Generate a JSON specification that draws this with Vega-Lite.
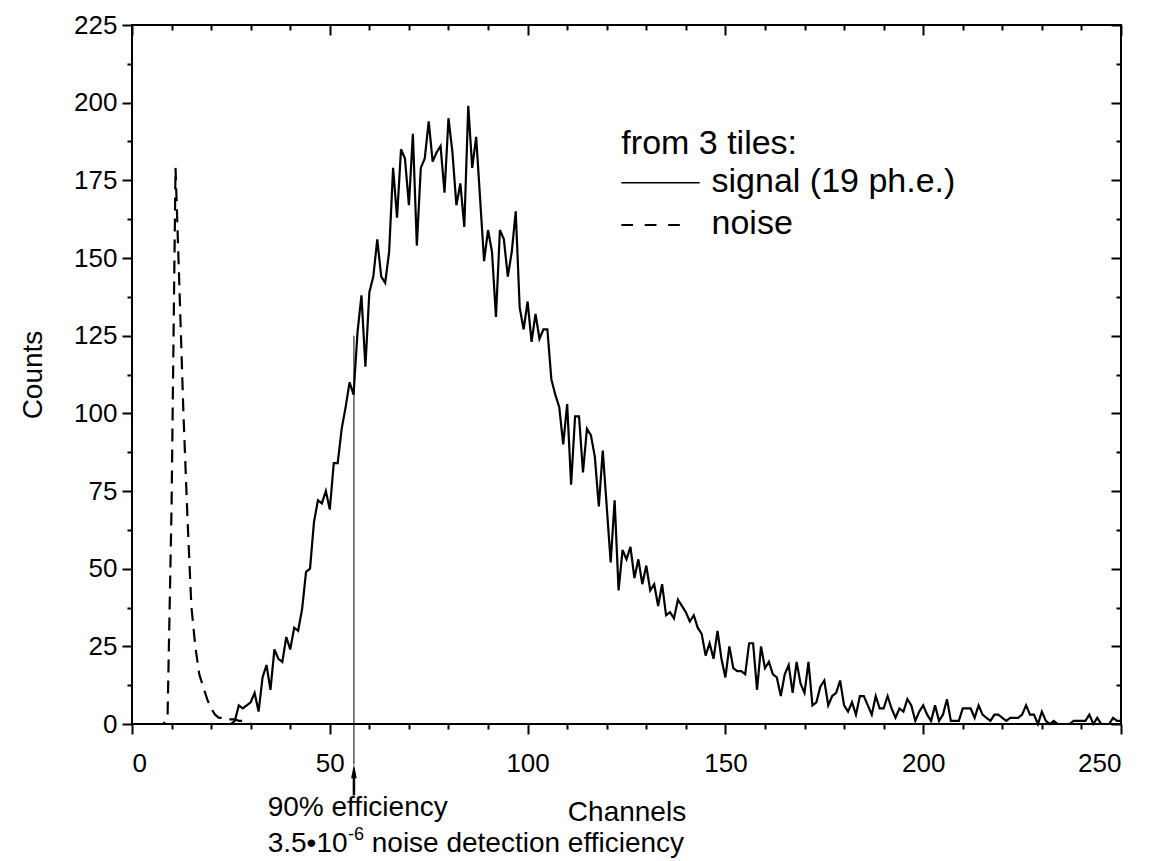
{
  "$schema": "https://vega.github.io/schema/vega-lite/v6.json",
  "width": 989,
  "height": 699,
  "autosize": "none",
  "padding": {"left": 132, "top": 25, "right": 39, "bottom": 137},
  "background": "white",
  "config": {
    "view": {"stroke": "black", "strokeWidth": 2},
    "font": "Liberation Sans",
    "axis": {
      "domain": false, "grid": false, "tickColor": "black", "tickWidth": 2,
      "labelColor": "black", "labelFont": "Liberation Sans", "labelFontSize": 26,
      "titleColor": "black", "titleFont": "Liberation Sans", "titleFontSize": 28, "titleFontWeight": "normal"
    },
    "text": {"font": "Liberation Sans", "color": "black"}
  },
  "datasets": {
    "signal": [
      {"channel":0,"counts":0},{"channel":25,"counts":0},{"channel":26,"counts":1},{"channel":27,"counts":6},{"channel":28,"counts":5},{"channel":29,"counts":6},{"channel":30,"counts":7},{"channel":31,"counts":10},{"channel":32,"counts":4},{"channel":33,"counts":15},{"channel":34,"counts":19},{"channel":35,"counts":11},{"channel":36,"counts":24},{"channel":37,"counts":21},{"channel":38,"counts":20},{"channel":39,"counts":28},{"channel":40,"counts":24},{"channel":41,"counts":31},{"channel":42,"counts":30},{"channel":43,"counts":37},{"channel":44,"counts":49},{"channel":45,"counts":50},{"channel":46,"counts":65},{"channel":47,"counts":72},{"channel":48,"counts":71},{"channel":49,"counts":75},{"channel":50,"counts":69},{"channel":51,"counts":84},{"channel":52,"counts":84},{"channel":53,"counts":95},{"channel":54,"counts":102},{"channel":55,"counts":110},{"channel":56,"counts":106},{"channel":57,"counts":126},{"channel":58,"counts":138},{"channel":59,"counts":115},{"channel":60,"counts":139},{"channel":61,"counts":144},{"channel":62,"counts":156},{"channel":63,"counts":144},{"channel":64,"counts":142},{"channel":65,"counts":152},{"channel":66,"counts":179},{"channel":67,"counts":163},{"channel":68,"counts":185},{"channel":69,"counts":182},{"channel":70,"counts":167},{"channel":71,"counts":190},{"channel":72,"counts":154},{"channel":73,"counts":179},{"channel":74,"counts":182},{"channel":75,"counts":194},{"channel":76,"counts":181},{"channel":77,"counts":184},{"channel":78,"counts":186},{"channel":79,"counts":171},{"channel":80,"counts":195},{"channel":81,"counts":184},{"channel":82,"counts":167},{"channel":83,"counts":174},{"channel":84,"counts":160},{"channel":85,"counts":199},{"channel":86,"counts":179},{"channel":87,"counts":189},{"channel":88,"counts":169},{"channel":89,"counts":149},{"channel":90,"counts":159},{"channel":91,"counts":152},{"channel":92,"counts":131},{"channel":93,"counts":159},{"channel":94,"counts":156},{"channel":95,"counts":144},{"channel":96,"counts":152},{"channel":97,"counts":165},{"channel":98,"counts":134},{"channel":99,"counts":127},{"channel":100,"counts":136},{"channel":101,"counts":123},{"channel":102,"counts":132},{"channel":103,"counts":124},{"channel":104,"counts":127},{"channel":105,"counts":127},{"channel":106,"counts":111},{"channel":107,"counts":106},{"channel":108,"counts":102},{"channel":109,"counts":90},{"channel":110,"counts":103},{"channel":111,"counts":77},{"channel":112,"counts":99},{"channel":113,"counts":99},{"channel":114,"counts":81},{"channel":115,"counts":95},{"channel":116,"counts":93},{"channel":117,"counts":86},{"channel":118,"counts":70},{"channel":119,"counts":88},{"channel":120,"counts":70},{"channel":121,"counts":52},{"channel":122,"counts":72},{"channel":123,"counts":43},{"channel":124,"counts":56},{"channel":125,"counts":53},{"channel":126,"counts":57},{"channel":127,"counts":47},{"channel":128,"counts":53},{"channel":129,"counts":45},{"channel":130,"counts":51},{"channel":131,"counts":43},{"channel":132,"counts":45},{"channel":133,"counts":38},{"channel":134,"counts":45},{"channel":135,"counts":35},{"channel":136,"counts":36},{"channel":137,"counts":34},{"channel":138,"counts":40},{"channel":139,"counts":38},{"channel":140,"counts":36},{"channel":141,"counts":33},{"channel":142,"counts":35},{"channel":143,"counts":31},{"channel":144,"counts":29},{"channel":145,"counts":22},{"channel":146,"counts":26},{"channel":147,"counts":21},{"channel":148,"counts":30},{"channel":149,"counts":21},{"channel":150,"counts":15},{"channel":151,"counts":25},{"channel":152,"counts":18},{"channel":153,"counts":17},{"channel":154,"counts":17},{"channel":155,"counts":16},{"channel":156,"counts":26},{"channel":157,"counts":26},{"channel":158,"counts":11},{"channel":159,"counts":25},{"channel":160,"counts":18},{"channel":161,"counts":20},{"channel":162,"counts":16},{"channel":163,"counts":15},{"channel":164,"counts":9},{"channel":165,"counts":16},{"channel":166,"counts":19},{"channel":167,"counts":10},{"channel":168,"counts":20},{"channel":169,"counts":13},{"channel":170,"counts":10},{"channel":171,"counts":20},{"channel":172,"counts":6},{"channel":173,"counts":7},{"channel":174,"counts":12},{"channel":175,"counts":14},{"channel":176,"counts":6},{"channel":177,"counts":9},{"channel":178,"counts":10},{"channel":179,"counts":14},{"channel":180,"counts":6},{"channel":181,"counts":4},{"channel":182,"counts":7},{"channel":183,"counts":3},{"channel":184,"counts":9},{"channel":185,"counts":9},{"channel":186,"counts":6},{"channel":187,"counts":3},{"channel":188,"counts":9},{"channel":189,"counts":5},{"channel":190,"counts":5},{"channel":191,"counts":9},{"channel":192,"counts":5},{"channel":193,"counts":2},{"channel":194,"counts":5},{"channel":195,"counts":4},{"channel":196,"counts":8},{"channel":197,"counts":6},{"channel":198,"counts":1},{"channel":199,"counts":4},{"channel":200,"counts":6},{"channel":201,"counts":3},{"channel":202,"counts":1},{"channel":203,"counts":6},{"channel":204,"counts":1},{"channel":205,"counts":3},{"channel":206,"counts":8},{"channel":207,"counts":1},{"channel":208,"counts":1},{"channel":209,"counts":1},{"channel":210,"counts":5},{"channel":211,"counts":5},{"channel":212,"counts":5},{"channel":213,"counts":2},{"channel":214,"counts":6},{"channel":215,"counts":3},{"channel":216,"counts":2},{"channel":217,"counts":1},{"channel":218,"counts":3},{"channel":219,"counts":3},{"channel":220,"counts":2},{"channel":221,"counts":1},{"channel":222,"counts":2},{"channel":223,"counts":2},{"channel":224,"counts":2},{"channel":225,"counts":3},{"channel":226,"counts":6},{"channel":227,"counts":3},{"channel":228,"counts":3},{"channel":229,"counts":0},{"channel":230,"counts":4},{"channel":231,"counts":1},{"channel":232,"counts":0},{"channel":233,"counts":1},{"channel":234,"counts":0},{"channel":237,"counts":0},{"channel":238,"counts":1},{"channel":239,"counts":1},{"channel":240,"counts":1},{"channel":241,"counts":1},{"channel":242,"counts":3},{"channel":243,"counts":0},{"channel":244,"counts":2},{"channel":245,"counts":0},{"channel":247,"counts":0},{"channel":248,"counts":2},{"channel":249,"counts":1},{"channel":250,"counts":1}
    ],
    "noise": [
      {"channel":0,"counts":0},{"channel":8,"counts":0},{"channel":9,"counts":3},{"channel":10,"counts":70},{"channel":11,"counts":179},{"channel":12,"counts":140},{"channel":13,"counts":100},{"channel":14,"counts":67},{"channel":15,"counts":38},{"channel":16,"counts":25},{"channel":17,"counts":16},{"channel":18,"counts":12},{"channel":19,"counts":8},{"channel":20,"counts":5},{"channel":21,"counts":3},{"channel":22,"counts":2},{"channel":23,"counts":2},{"channel":24,"counts":1.5},{"channel":25,"counts":1.5},{"channel":26,"counts":1.5},{"channel":27,"counts":1},{"channel":28,"counts":1},{"channel":29,"counts":0.5},{"channel":30,"counts":0},{"channel":250,"counts":0}
    ],
    "one": [{}]
  },
  "resolve": {"axis": {"x": "independent", "y": "independent"}},
  "layer": [
    {
      "data": {"name": "signal"},
      "mark": {"type": "line", "stroke": "black", "strokeWidth": 2.2},
      "encoding": {
        "x": {"field": "channel", "type": "quantitative", "scale": {"domain": [0, 250], "nice": false, "zero": false},
              "axis": {"orient": "bottom", "values": [0, 50, 100, 150, 200, 250], "tickSize": 10, "labelPadding": 16, "title": "Channels", "titlePadding": 22}},
        "y": {"field": "counts", "type": "quantitative", "scale": {"domain": [0, 225], "nice": false, "zero": false},
              "axis": {"orient": "left", "values": [0, 25, 50, 75, 100, 125, 150, 175, 200, 225], "tickSize": 10, "labelPadding": 5, "title": "Counts", "titlePadding": 26}}
      }
    },
    {
      "data": {"name": "noise"},
      "mark": {"type": "line", "stroke": "black", "strokeWidth": 2.2, "strokeDash": [13, 8]},
      "encoding": {
        "x": {"field": "channel", "type": "quantitative",
              "axis": {"orient": "bottom", "values": [10, 20, 30, 40, 60, 70, 80, 90, 110, 120, 130, 140, 160, 170, 180, 190, 210, 220, 230, 240], "tickSize": 5, "labels": false, "title": null}},
        "y": {"field": "counts", "type": "quantitative",
              "axis": {"orient": "left", "values": [12.5, 37.5, 62.5, 87.5, 112.5, 137.5, 162.5, 187.5, 212.5], "tickSize": 5, "labels": false, "title": null}}
      }
    },
    {
      "data": {"name": "signal"},
      "mark": {"type": "line", "strokeOpacity": 0},
      "encoding": {
        "x": {"field": "channel", "type": "quantitative",
              "axis": {"orient": "top", "offset": -10, "values": [0, 50, 100, 150, 200, 250], "tickSize": 10, "labels": false, "title": null}},
        "y": {"field": "counts", "type": "quantitative",
              "axis": {"orient": "right", "offset": -10, "values": [0, 25, 50, 75, 100, 125, 150, 175, 200, 225], "tickSize": 10, "labels": false, "title": null}}
      }
    },
    {
      "data": {"name": "noise"},
      "mark": {"type": "line", "strokeOpacity": 0},
      "encoding": {
        "x": {"field": "channel", "type": "quantitative",
              "axis": {"orient": "top", "offset": -5, "values": [10, 20, 30, 40, 60, 70, 80, 90, 110, 120, 130, 140, 160, 170, 180, 190, 210, 220, 230, 240], "tickSize": 5, "labels": false, "title": null}},
        "y": {"field": "counts", "type": "quantitative",
              "axis": {"orient": "right", "offset": -5, "values": [12.5, 37.5, 62.5, 87.5, 112.5, 137.5, 162.5, 187.5, 212.5], "tickSize": 5, "labels": false, "title": null}}
      }
    },
    {
      "data": {"name": "one"},
      "mark": {"type": "rule", "stroke": "black", "strokeWidth": 1},
      "encoding": {
        "x": {"datum": 56.1, "type": "quantitative", "axis": null},
        "y": {"datum": 125, "type": "quantitative", "axis": null},
        "y2": {"datum": -13}
      }
    },
    {
      "data": {"name": "one"},
      "mark": {"type": "rule", "stroke": "black", "strokeWidth": 2.5},
      "encoding": {
        "x": {"datum": 56.1, "type": "quantitative", "axis": null},
        "y": {"datum": -16.5, "type": "quantitative", "axis": null},
        "y2": {"datum": -23}
      }
    },
    {
      "data": {"name": "one"},
      "mark": {"type": "point", "shape": "M0,-1L0.4,1L-0.4,1Z", "filled": true, "color": "black", "opacity": 1, "size": 196},
      "encoding": {
        "x": {"datum": 56.1, "type": "quantitative", "axis": null},
        "y": {"datum": -15.2, "type": "quantitative", "axis": null}
      }
    },
    {
      "data": {"name": "one"},
      "mark": {"type": "text", "text": "90% efficiency", "fontSize": 28, "align": "left", "baseline": "alphabetic"},
      "encoding": {
        "x": {"datum": 34.3, "type": "quantitative", "axis": null},
        "y": {"datum": -29.6, "type": "quantitative", "axis": null}
      }
    },
    {
      "data": {"name": "one"},
      "mark": {"type": "text", "text": "3.5•10", "fontSize": 28, "align": "left", "baseline": "alphabetic"},
      "encoding": {
        "x": {"datum": 34.3, "type": "quantitative", "axis": null},
        "y": {"datum": -41.1, "type": "quantitative", "axis": null}
      }
    },
    {
      "data": {"name": "one"},
      "mark": {"type": "text", "text": "-6", "fontSize": 18, "align": "left", "baseline": "alphabetic"},
      "encoding": {
        "x": {"datum": 54.6, "type": "quantitative", "axis": null},
        "y": {"datum": -37.3, "type": "quantitative", "axis": null}
      }
    },
    {
      "data": {"name": "one"},
      "mark": {"type": "text", "text": "noise detection efficiency", "fontSize": 28, "align": "left", "baseline": "alphabetic"},
      "encoding": {
        "x": {"datum": 60.6, "type": "quantitative", "axis": null},
        "y": {"datum": -41.1, "type": "quantitative", "axis": null}
      }
    },
    {
      "data": {"name": "one"},
      "mark": {"type": "text", "text": "from 3 tiles:", "fontSize": 34, "align": "left", "baseline": "alphabetic"},
      "encoding": {
        "x": {"datum": 123.7, "type": "quantitative", "axis": null},
        "y": {"datum": 183.5, "type": "quantitative", "axis": null}
      }
    },
    {
      "data": {"name": "one"},
      "mark": {"type": "text", "text": "signal (19 ph.e.)", "fontSize": 34, "align": "left", "baseline": "alphabetic"},
      "encoding": {
        "x": {"datum": 146.5, "type": "quantitative", "axis": null},
        "y": {"datum": 171.4, "type": "quantitative", "axis": null}
      }
    },
    {
      "data": {"name": "one"},
      "mark": {"type": "text", "text": "noise", "fontSize": 34, "align": "left", "baseline": "alphabetic"},
      "encoding": {
        "x": {"datum": 146.5, "type": "quantitative", "axis": null},
        "y": {"datum": 157.6, "type": "quantitative", "axis": null}
      }
    },
    {
      "data": {"name": "one"},
      "mark": {"type": "rule", "stroke": "black", "strokeWidth": 1.5},
      "encoding": {
        "x": {"datum": 123.7, "type": "quantitative", "axis": null},
        "x2": {"datum": 143.5},
        "y": {"datum": 174.2, "type": "quantitative", "axis": null}
      }
    },
    {
      "data": {"name": "one"},
      "mark": {"type": "rule", "stroke": "black", "strokeWidth": 2, "strokeDash": [11.7, 11.7]},
      "encoding": {
        "x": {"datum": 123.7, "type": "quantitative", "axis": null},
        "x2": {"datum": 138.5},
        "y": {"datum": 160.6, "type": "quantitative", "axis": null}
      }
    }
  ]
}
